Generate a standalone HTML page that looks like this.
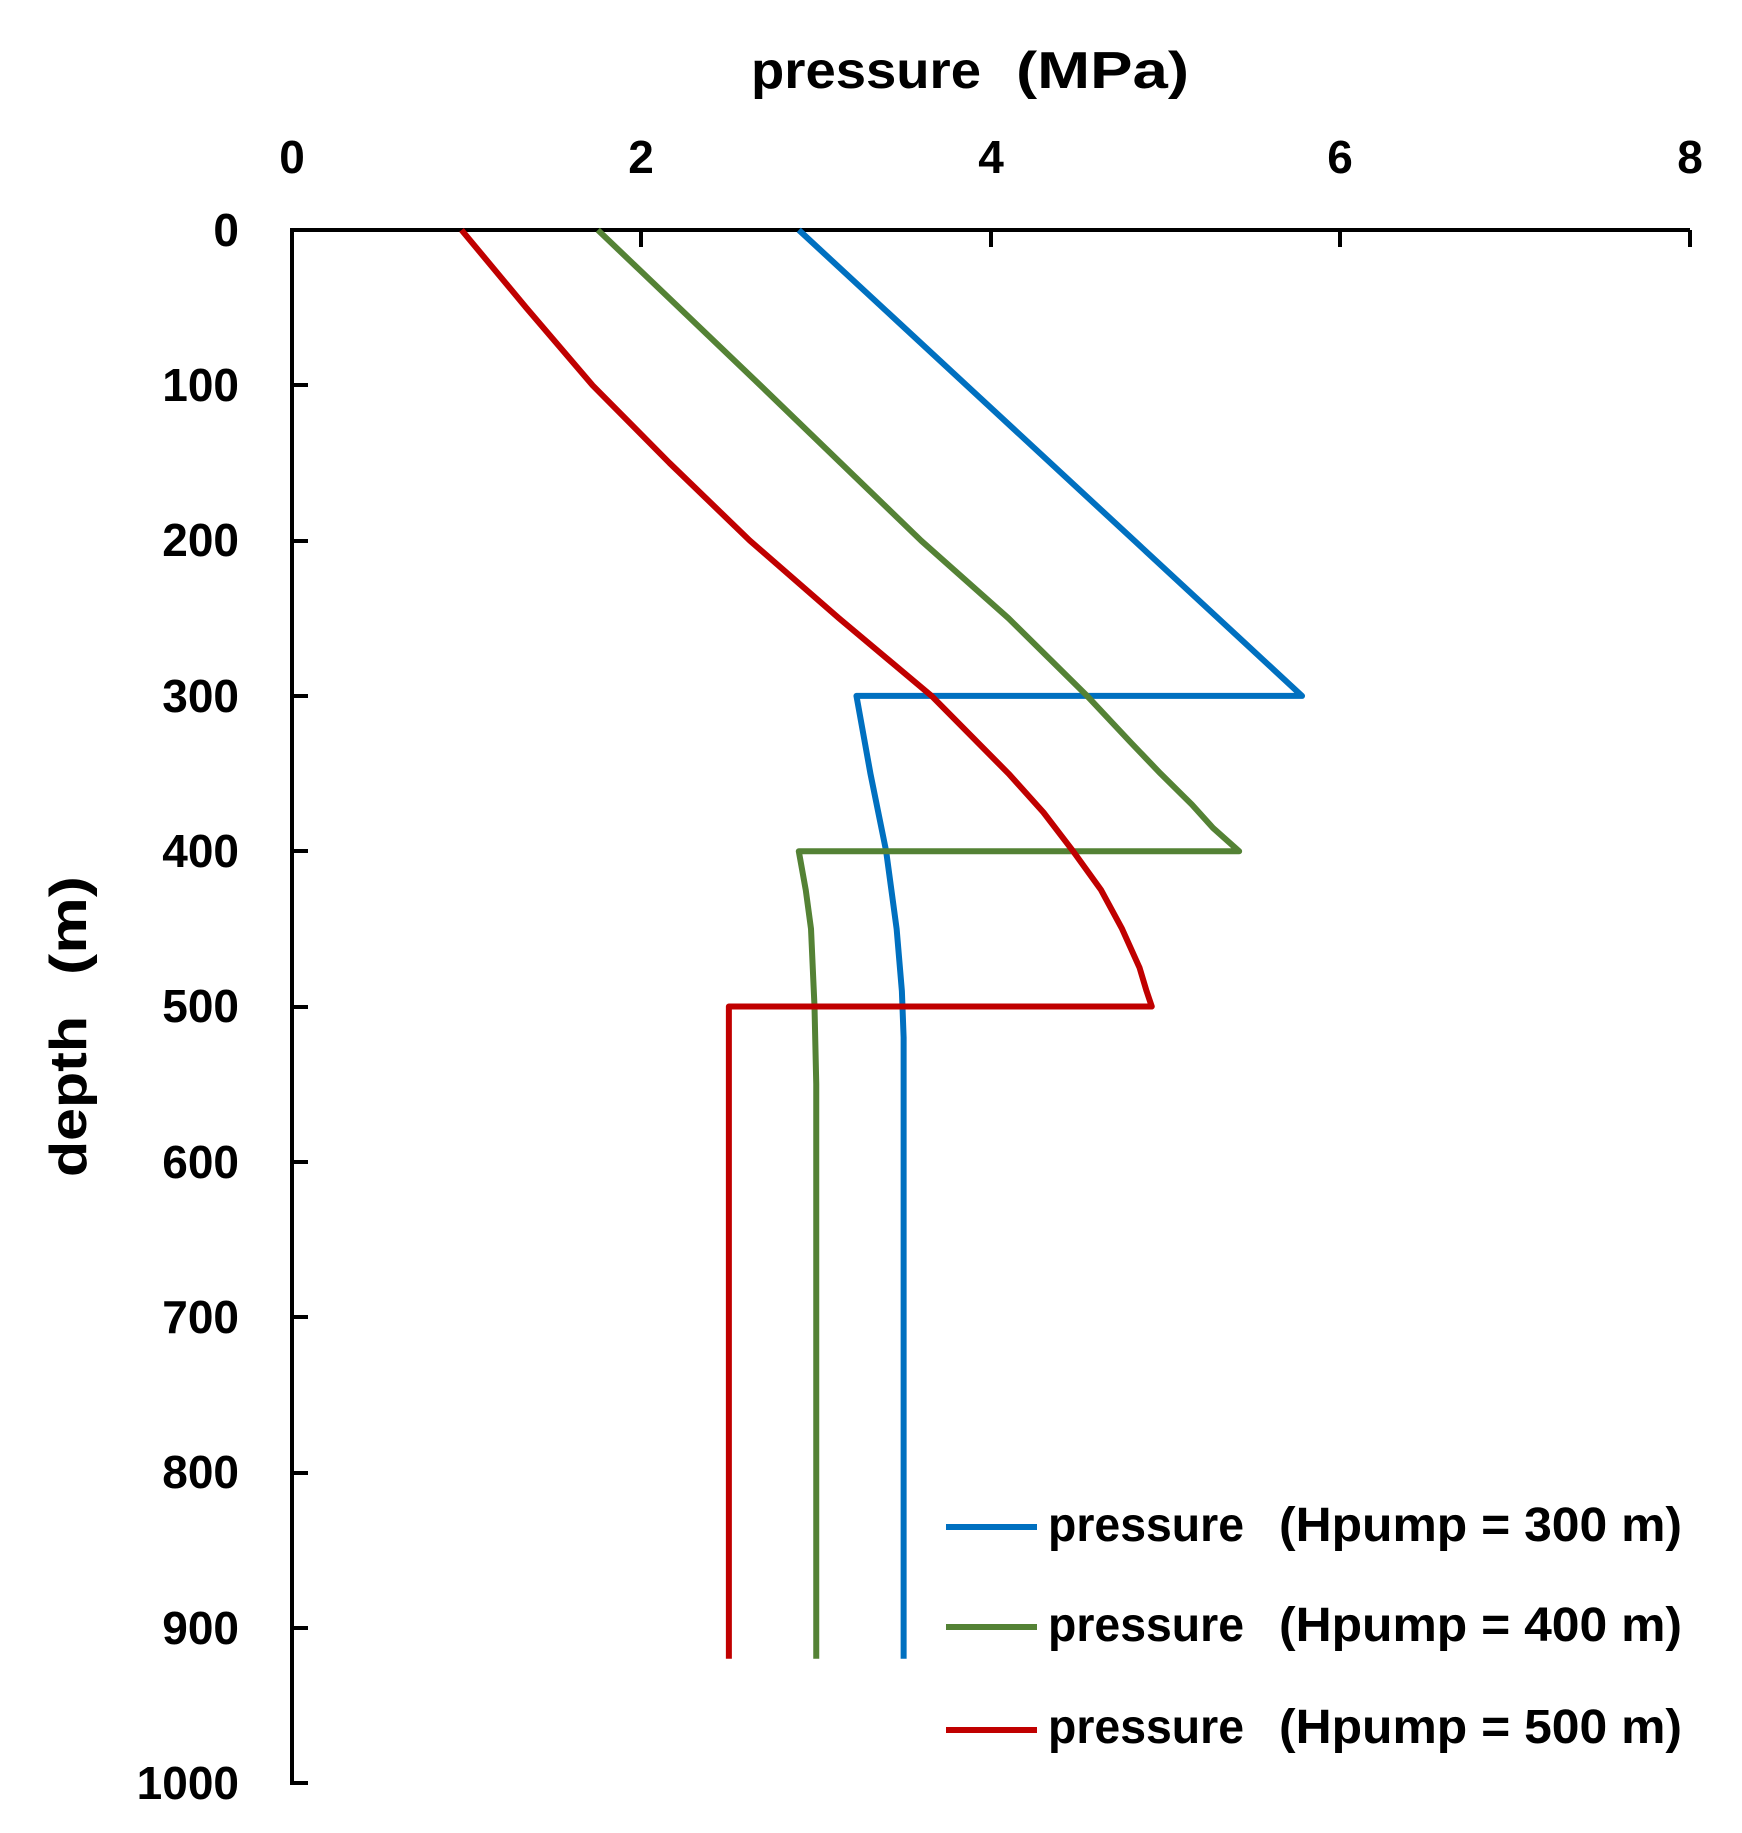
<!DOCTYPE html>
<html><head><meta charset="utf-8"><style>
html,body{margin:0;padding:0;background:#fff;}
svg{display:block;}
text{font-family:"Liberation Sans",sans-serif;font-weight:bold;fill:#000;}
</style></head><body>
<svg width="1742" height="1833" viewBox="0 0 1742 1833" xmlns="http://www.w3.org/2000/svg">
<text x="751" y="88" font-size="52" textLength="230" lengthAdjust="spacingAndGlyphs">pressure</text>
<text x="1016" y="88" font-size="52" textLength="173" lengthAdjust="spacingAndGlyphs">(MPa)</text>
<g font-size="46" text-anchor="middle">
<text x="292" y="173">0</text>
<text x="641" y="173">2</text>
<text x="991" y="173">4</text>
<text x="1340" y="173">6</text>
<text x="1690" y="173">8</text>
</g>
<g font-size="46" text-anchor="end">
<text x="239" y="246">0</text>
<text x="239" y="401">100</text>
<text x="239" y="556">200</text>
<text x="239" y="712">300</text>
<text x="239" y="867">400</text>
<text x="239" y="1022">500</text>
<text x="239" y="1178">600</text>
<text x="239" y="1333">700</text>
<text x="239" y="1488">800</text>
<text x="239" y="1644">900</text>
<text x="239" y="1799">1000</text>
</g>
<g transform="translate(86,0) rotate(-90)" font-size="52">
<text x="-1177" y="0" textLength="161" lengthAdjust="spacingAndGlyphs">depth</text>
<text x="-975" y="0" textLength="99" lengthAdjust="spacingAndGlyphs">(m)</text>
</g>
<g stroke="#000" stroke-width="4" fill="none">
<path d="M292,230 H1690 M292,228 V1785 M290,1783 H308"/>
<path d="M641,230 V247 M991,230 V247 M1340,230 V247 M1690,230 V247"/>
<path d="M292,385 H308 M292,541 H308 M292,696 H308 M292,851 H308 M292,1007 H308 M292,1162 H308 M292,1317 H308 M292,1473 H308 M292,1628 H308"/>
</g>
<g transform="translate(292,230) scale(174.75,1.553)" fill="none" stroke-width="6" stroke-linejoin="round">
<polyline vector-effect="non-scaling-stroke" stroke="#0070c0" points="2.9,0 3.86,100 4.82,200 5.78,300 3.23,300 3.31,350 3.40,400 3.46,450 3.49,490 3.5,520 3.5,920"/>
<polyline vector-effect="non-scaling-stroke" stroke="#548235" points="1.75,0 2.68,100 3.6,200 4.1,250 4.55,300 4.8,330 4.97,350 5.15,370 5.27,385 5.42,400 2.9,400 2.94,425 2.97,450 2.99,500 3.0,550 3.0,920"/>
<polyline vector-effect="non-scaling-stroke" stroke="#c00000" points="0.97,0 1.34,50 1.72,100 2.16,150 2.62,200 3.13,250 3.66,300 4.1,350 4.3,375 4.47,400 4.63,425 4.75,450 4.85,475 4.89,490 4.92,500 2.5,500 2.5,920"/>
</g>
<g stroke-width="6">
<line x1="946" y1="1527" x2="1037" y2="1527" stroke="#0070c0"/>
<line x1="946" y1="1627" x2="1037" y2="1627" stroke="#548235"/>
<line x1="946" y1="1730" x2="1037" y2="1730" stroke="#c00000"/>
</g>
<g font-size="48">
<text x="1048" y="1541" textLength="196" lengthAdjust="spacingAndGlyphs">pressure</text>
<text x="1279" y="1541" textLength="403" lengthAdjust="spacingAndGlyphs">(Hpump = 300 m)</text>
<text x="1048" y="1641" textLength="196" lengthAdjust="spacingAndGlyphs">pressure</text>
<text x="1279" y="1641" textLength="403" lengthAdjust="spacingAndGlyphs">(Hpump = 400 m)</text>
<text x="1048" y="1743" textLength="196" lengthAdjust="spacingAndGlyphs">pressure</text>
<text x="1279" y="1743" textLength="403" lengthAdjust="spacingAndGlyphs">(Hpump = 500 m)</text>
</g>
</svg>
</body></html>
